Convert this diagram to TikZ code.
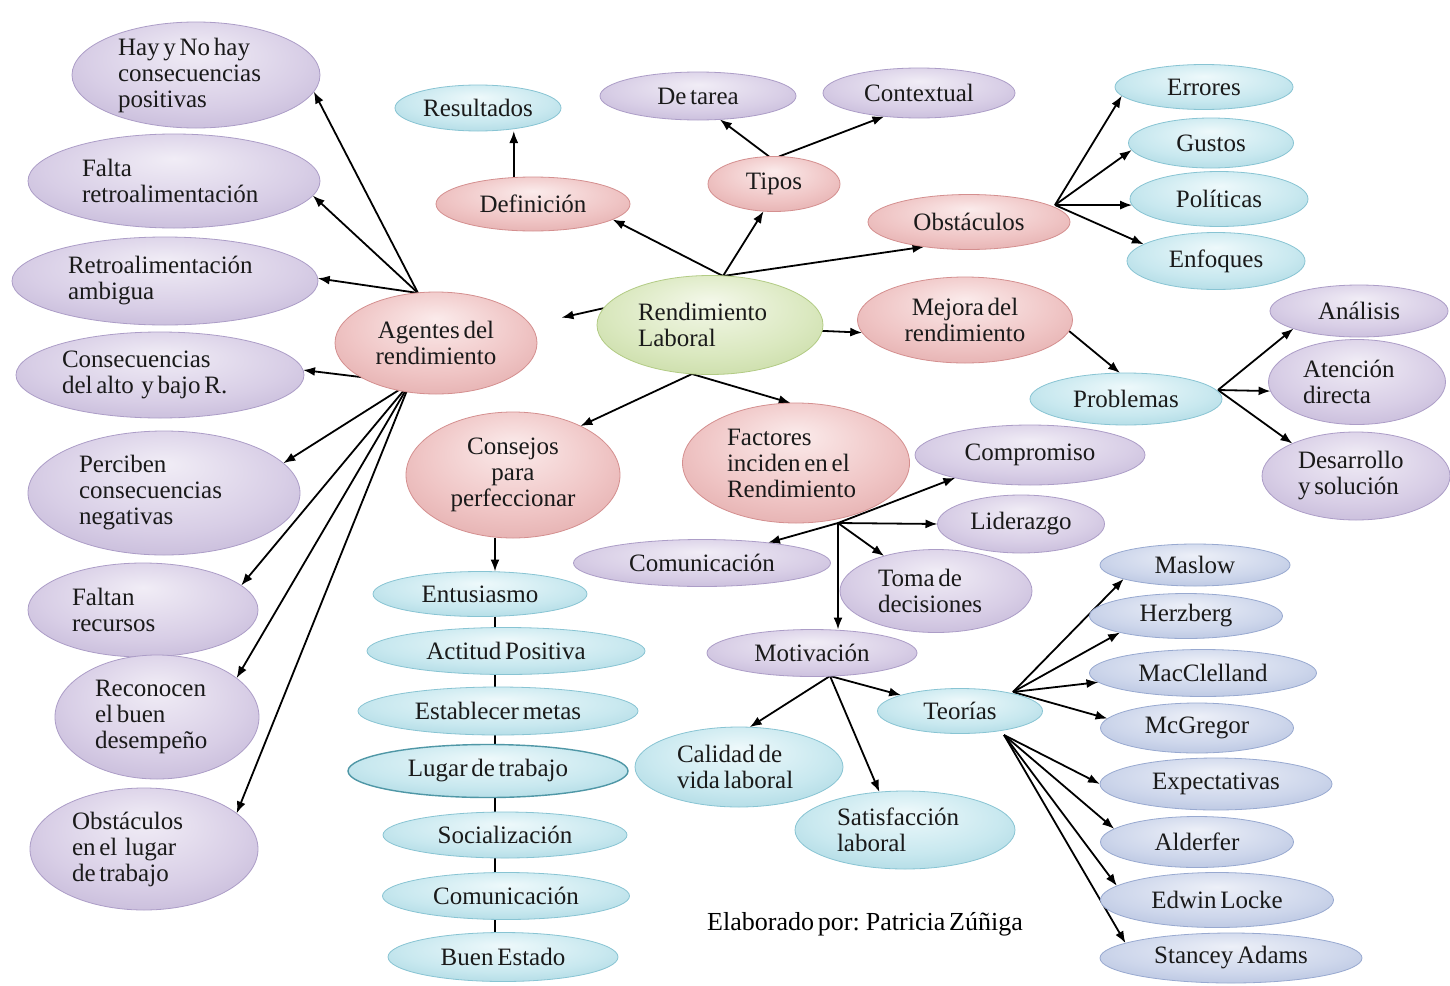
\documentclass[tikz,border=0pt]{standalone}
\usepackage{fontspec}
\setmainfont{Liberation Serif}[WordSpace=0.6]
\usetikzlibrary{arrows.meta,shapes.geometric,calc}
\pgfdeclarelayer{bg}
\pgfsetlayers{bg,main}
\definecolor{txt}{HTML}{1A1A1A}
\definecolor{pu1}{HTML}{F1EDF6}\definecolor{pu2}{HTML}{D8CEE6}\definecolor{pu3}{HTML}{AC9DC7}
\definecolor{pk1}{HTML}{FBEBEB}\definecolor{pk2}{HTML}{EFC4C4}\definecolor{pk3}{HTML}{D48F8F}
\definecolor{bl1}{HTML}{EEF9FB}\definecolor{bl2}{HTML}{C8E8EF}\definecolor{bl3}{HTML}{88C4D3}
\definecolor{gr1}{HTML}{F4F8EA}\definecolor{gr2}{HTML}{DAE8BF}\definecolor{gr3}{HTML}{B2CB84}
\definecolor{lv1}{HTML}{EDF0F8}\definecolor{lv2}{HTML}{CDD6EB}\definecolor{lv3}{HTML}{98A9D0}
\definecolor{lugedge}{HTML}{4F97A6}
\pgfdeclareradialshading{shpu}{\pgfpoint{0bp}{12bp}}{color(0bp)=(pu1);color(22bp)=(pu2);color(50bp)=(pu3)}
\pgfdeclareradialshading{shpk}{\pgfpoint{0bp}{12bp}}{color(0bp)=(pk1);color(22bp)=(pk2);color(50bp)=(pk3)}
\pgfdeclareradialshading{shbl}{\pgfpoint{0bp}{12bp}}{color(0bp)=(bl1);color(22bp)=(bl2);color(50bp)=(bl3)}
\pgfdeclareradialshading{shgr}{\pgfpoint{0bp}{12bp}}{color(0bp)=(gr1);color(22bp)=(gr2);color(50bp)=(gr3)}
\pgfdeclareradialshading{shlv}{\pgfpoint{0bp}{12bp}}{color(0bp)=(lv1);color(22bp)=(lv2);color(50bp)=(lv3)}
\tikzset{
  bub/.style={ellipse, inner sep=0pt, outer sep=0pt, text=txt, font=\fontsize{25}{26}\selectfont, line width=0.8pt},
  pu/.style={bub, shade, shading=shpu, draw=pu3},
  pk/.style={bub, shade, shading=shpk, draw=pk3},
  bl/.style={bub, shade, shading=shbl, draw=bl3},
  gr/.style={bub, shade, shading=shgr, draw=gr3},
  lv/.style={bub, shade, shading=shlv, draw=lv3},
  wh/.style 2 args={minimum width=#1pt, minimum height=#2pt},
  arr/.style={line width=1.8pt, draw=black, -{Latex[length=12pt,width=9pt]}},
  lnk/.style={line width=1.5pt, draw=black},
}
\begin{document}
\begin{tikzpicture}[x=1pt,y=-1pt]
\useasboundingbox (0,0) rectangle (1450,985);

% left column
\node[pu, wh={248}{106}, align=flush left, text width=156pt] (hay) at (196,75) {Hay y No hay\\consecuencias\\positivas};
\node[pu, wh={292}{94}, align=flush left, text width=184pt] (falta) at (174,181) {Falta\\retroalimentación};
\node[pu, wh={306}{88}, align=flush left, text width=194pt] (retro) at (165,281) {Retroalimentación\\ambigua};
\node[pu, wh={288}{86}, align=flush left, text width=196pt] (conse) at (160,375) {Consecuencias\\del alto\ \ y bajo R.};
\node[pu, wh={272}{124}, align=flush left, text width=170pt] (perc) at (164,493) {Perciben\\consecuencias\\negativas};
\node[pu, wh={230}{94}, align=flush left, text width=142pt] (faltan) at (143,610) {Faltan\\recursos};
\node[pu, wh={204}{124}, align=flush left, text width=124pt] (recon) at (157,717) {Reconocen\\el buen\\desempeño};
\node[pu, wh={228}{122}, align=flush left, text width=144pt] (obsl) at (144,849) {Obstáculos\\en el\ \ lugar\\de trabajo};

% center
\node[pk, wh={202}{102}, align=center] (agen) at (436,343) {Agentes del\\rendimiento};
\node[gr, wh={226}{99}, align=flush left, text width=144pt] (rend) at (710,325) {Rendimiento\\Laboral};
\node[bl, wh={166}{46}] (resu) at (478,108) {Resultados};
\node[pk, wh={194}{54}] (defi) at (533,204) {Definición};
\node[pu, wh={196}{48}] (tarea) at (698,96) {De tarea};
\node[pu, wh={192}{50}] (cont) at (919,93) {Contextual};
\node[pk, wh={132}{55}] (tipos) at (774,184) {Tipos};
\node[pk, wh={202}{55}] (obst) at (969,222) {Obstáculos};
\node[bl, wh={178}{45}] (err) at (1204,87) {Errores};
\node[bl, wh={165}{50}] (gus) at (1211,143) {Gustos};
\node[bl, wh={178}{55}] (pol) at (1219,199) {Políticas};
\node[bl, wh={178}{57}] (enf) at (1216,261) {Enfoques};
\node[pk, wh={215}{86}, align=center] (mej) at (965,320) {Mejora del\\rendimiento};
\node[bl, wh={192}{52}] (prob) at (1126,399) {Problemas};
\node[pu, wh={178}{52}] (ana) at (1359,311) {Análisis};
\node[pu, wh={177}{85}, align=flush left, text width=108pt] (aten) at (1357,382) {Atención\\directa};
\node[pu, wh={188}{88}, align=flush left, text width=116pt] (desa) at (1356,476) {Desarrollo\\y solución};
\node[pk, wh={214}{126}, align=center] (cons) at (513,475) {Consejos\\para\\perfeccionar};
\node[pk, wh={227}{120}, align=flush left, text width=138pt] (fact) at (796,463) {Factores\\inciden en el\\Rendimiento};
\node[pu, wh={230}{60}] (comp) at (1030,455) {Compromiso};
\node[pu, wh={167}{58}] (lide) at (1021,524) {Liderazgo};
\node[pu, wh={257}{47}] (comu) at (702,563) {Comunicación};
\node[pu, wh={192}{83}, align=flush left, text width=116pt] (toma) at (936,591) {Toma de\\decisiones};
\node[pu, wh={210}{47}] (moti) at (812,653) {Motivación};
\node[bl, wh={165}{45}] (teo) at (960,711) {Teorías};
\node[bl, wh={208}{80}, align=flush left, text width=124pt] (cali) at (739,767) {Calidad de\\vida laboral};
\node[bl, wh={220}{78}, align=flush left, text width=136pt] (sati) at (905,830) {Satisfacción\\laboral};

% theories
\node[lv, wh={190}{42}] (masl) at (1195,565) {Maslow};
\node[lv, wh={193}{45}] (herz) at (1186,616) {Herzberg};
\node[lv, wh={227}{47}] (macc) at (1203,673) {MacClelland};
\node[lv, wh={193}{50}] (mcgr) at (1197,728) {McGregor};
\node[lv, wh={232}{52}] (expe) at (1216,784) {Expectativas};
\node[lv, wh={193}{51}] (alde) at (1197,842) {Alderfer};
\node[lv, wh={233}{55}] (edwi) at (1217,900) {Edwin Locke};
\node[lv, wh={262}{50}] (stan) at (1231,958) {Stancey Adams};

% consejos column
\node[bl, wh={214}{45}] (ent) at (480,594) {Entusiasmo};
\node[bl, wh={278}{47}] (act) at (506,651) {Actitud Positiva};
\node[bl, wh={280}{48}] (est) at (498,711) {Establecer metas};
\node[bl, wh={280}{53}, draw=lugedge, line width=1.4pt] (lug) at (488,771) {Lugar de trabajo};
\node[bl, wh={244}{46}] (soc) at (505,835) {Socialización};
\node[bl, wh={247}{47}] (com2) at (506,896) {Comunicación};
\node[bl, wh={230}{49}] (buen) at (503,957) {Buen Estado};

\node[font=\fontsize{26}{28}\selectfont, text=black] (firma) at (865,924) {Elaborado por: Patricia Zúñiga};

\begin{pgfonlayer}{bg}
\fill[white] (0,0) rectangle (1450,985);
\coordinate (agU) at (418,293);
\coordinate (agD) at (410,383);
\draw[arr] (agU) -- (hay.-8.7);
\draw[arr] (agU) -- (falta.-6.9);
\draw[arr] (agU) -- (retro.1);
\draw[arr] (agD) -- (conse.2.7);
\draw[arr] (agD) -- (perc.14);
\draw[arr] (agD) -- (faltan.14.6);
\draw[arr] (agD) -- (recon.26.8);
\draw[arr] (agD) -- (obsl.21);

\coordinate (rT) at (723,276);
\coordinate (rB) at (692,374);
\draw[arr] (rT) -- (defi.-11.3);
\draw[arr] (rT) -- (tipos.-111.2);
\draw[arr] (rT) -- (obst.-151.1);
\draw[arr, shorten >=32pt] (rend.171) -- (agen.11.6);
\draw[arr] (rend.-3) -- (mej.-173.8);
\draw[arr] (rB) -- (cons.36.4);
\draw[arr] (rB) -- (fact.95.1);

\draw[arr] (defi.126.5) -- (defi.126.5 |- resu.south);
\draw[arr] (tipos.100) -- (tarea.-47.3);
\draw[arr] (tipos.80) -- (cont.-146.6);

\coordinate (oH) at (1055,205);
\draw[arr] (oH) -- (err.-174.7);
\draw[arr] (oH) -- (gus.-175);
\draw[arr] (oH) -- (pol.-176.2);
\draw[arr] (oH) -- (enf.167.8);

\draw[arr] (mej.-6.2) -- (prob.103);
\coordinate (pH) at (1218,390);
\draw[arr] (pH) -- (ana.-165.1);
\draw[arr] (pH) -- (aten.-174.9);
\draw[arr] (pH) -- (desa.153.4);

\coordinate (fH) at (838,523);
\draw[arr] (fH) -- (comp.-163.1);
\draw[arr] (fH) -- (lide.180);
\draw[arr] (fH) -- (comu.17.9);
\draw[arr] (fH) -- (toma.146);
\draw[arr] (fH) -- (fH |- moti.north);

\coordinate (mH) at (830,676);
\draw[arr] (mH) -- (cali.75.3);
\draw[arr] (mH) -- (sati.124);
\draw[arr] (mH) -- (teo.165);

\coordinate (tU) at (1013,692);
\coordinate (tL) at (1004,735);
\draw[arr] (tU) -- (masl.-169.9);
\draw[arr] (tU) -- (herz.-166.7);
\draw[arr] (tU) -- (macc.-175.8);
\draw[arr] (tU) -- (mcgr.174.6);
\draw[arr] (tL) -- (expe.180);
\draw[arr] (tL) -- (alde.171.8);
\draw[arr] (tL) -- (edwi.172.7);
\draw[arr] (tL) -- (stan.172.6);

\coordinate (colx) at (495,0);
\draw[arr] (colx |- cons.south) -- (colx |- ent.north);
\draw[lnk] (colx |- ent.south) -- (colx |- act.north);
\draw[lnk] (colx |- act.south) -- (colx |- est.north);
\draw[lnk] (colx |- est.south) -- (colx |- lug.north);
\draw[lnk] (colx |- lug.south) -- (colx |- soc.north);
\draw[lnk] (colx |- soc.south) -- (colx |- com2.north);
\draw[lnk] (colx |- com2.south) -- (colx |- buen.north);
\end{pgfonlayer}
\end{tikzpicture}
\end{document}
